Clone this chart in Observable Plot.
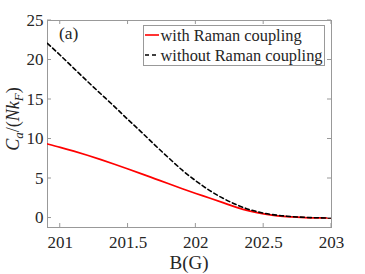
<!DOCTYPE html>
<html><head><meta charset="utf-8">
<script src="https://cdn.jsdelivr.net/npm/d3@7"></script>
<script src="https://cdn.jsdelivr.net/npm/@observablehq/plot@0.6"></script>
<style>body{margin:0;background:#fff}</style>
</head><body><div id="chart"></div>
<script>
const B = [200.906, 201.0, 201.1, 201.2, 201.3, 201.4, 201.5, 201.6, 201.7, 201.8, 201.9, 202.0, 202.1, 202.2, 202.3, 202.4, 202.5, 202.6, 202.7, 202.8, 202.9, 203.0];
const withRaman = [9.37, 8.95, 8.46, 7.94, 7.39, 6.81, 6.21, 5.59, 4.96, 4.33, 3.71, 3.11, 2.54, 1.95, 1.35, 0.88, 0.52, 0.28, 0.14, 0.06, 0.02, 0.0];
const withoutRaman = [22.1, 20.6, 18.95, 17.3, 15.7, 14.1, 12.45, 10.85, 9.2, 7.6, 6.05, 4.7, 3.5, 2.5, 1.68, 1.05, 0.62, 0.35, 0.19, 0.09, 0.03, 0.0];
const seriesNames = ["with Raman coupling", "without Raman coupling"];
const seriesColors = ["#ff0000", "#000000"];
const xTicks = [201, 201.5, 202, 202.5, 203];
const yTicks = [0, 5, 10, 15, 20, 25];
const xLabel = "B(G)";
const panelLabel = "(a)";

const rowsA = B.map((b, i) => ({B: b, C: withRaman[i]}));
const rowsB = B.map((b, i) => ({B: b, C: withoutRaman[i]}));
const axisColor = "#999";
const W = 365, H = 274, mL = 47, mR = 34, mT = 20, mB = 47;
const serif = "'Liberation Serif', 'Times New Roman', Times, serif";

const chart = Plot.plot({
  width: W, height: H,
  marginLeft: mL, marginRight: mR, marginTop: mT, marginBottom: mB,
  style: {fontFamily: serif, fontSize: "17px", color: "#262626", background: "white"},
  x: {domain: [200.906, 203], ticks: xTicks, tickFormat: d => String(d), tickSize: 0, tickPadding: 8, label: null},
  y: {domain: [-1.2, 25], ticks: yTicks, tickFormat: d => String(d), tickSize: 0, tickPadding: 4, label: null},
  marks: [
    Plot.frame({stroke: axisColor}),
    Plot.line(rowsA, {x: "B", y: "C", stroke: seriesColors[0], strokeWidth: 1.7, curve: "monotone-x", clip: true}),
    Plot.line(rowsB, {x: "B", y: "C", stroke: seriesColors[1], strokeWidth: 1.6, strokeDasharray: "4,3", curve: "monotone-x", clip: true})
  ]
});

const svg = d3.select(chart);
svg.selectAll("text").attr("font-family", serif);
const sx = chart.scale("x"), sy = chart.scale("y");
// inward ticks on all four sides, positioned by Plot's scales
const tg = svg.append("g").attr("stroke", axisColor).attr("stroke-width", 1);
xTicks.forEach(v => {
  const x = sx.apply(v);
  tg.append("line").attr("x1", x).attr("x2", x).attr("y1", H - mB).attr("y2", H - mB - 4);
  tg.append("line").attr("x1", x).attr("x2", x).attr("y1", mT).attr("y2", mT + 4);
});
yTicks.forEach(v => {
  const y = sy.apply(v);
  tg.append("line").attr("y1", y).attr("y2", y).attr("x1", mL).attr("x2", mL + 4);
  tg.append("line").attr("y1", y).attr("y2", y).attr("x1", W - mR).attr("x2", W - mR - 4);
});
// x label
svg.append("text").attr("x", 189).attr("y", 269).attr("text-anchor", "middle")
  .attr("font-family", serif).attr("font-size", 19).attr("fill", "#262626").text(xLabel);
// panel label
svg.append("text").attr("x", 59).attr("y", 39).attr("text-anchor", "start").attr("font-family", serif)
  .attr("font-size", 17.5).attr("fill", "#262626").text(panelLabel);
// y label
const yl = svg.append("text").attr("transform", "translate(19,119) rotate(-90)")
  .attr("text-anchor", "middle").attr("font-family", serif).attr("font-size", 18).attr("fill", "#262626");
yl.append("tspan").attr("font-style", "italic").text("C");
yl.append("tspan").attr("font-style", "italic").attr("font-size", 13).attr("dy", 4).text("a");
yl.append("tspan").attr("dy", -4).text("/(");
yl.append("tspan").attr("font-style", "italic").text("Nk");
yl.append("tspan").attr("font-style", "italic").attr("font-size", 13).attr("dy", 4).text("F");
yl.append("tspan").attr("dy", -4).text(")");
// legend
const lg = svg.append("g");
lg.append("rect").attr("x", 143.5).attr("y", 25.5).attr("width", 181).attr("height", 40)
  .attr("fill", "white").attr("stroke", axisColor);
seriesNames.forEach((name, i) => {
  const y = 35 + i * 20;
  lg.append("line").attr("x1", 145).attr("x2", 159).attr("y1", y).attr("y2", y)
    .attr("stroke", seriesColors[i]).attr("stroke-width", 1.6)
    .attr("stroke-dasharray", i === 1 ? "4,3" : null);
  lg.append("text").attr("x", 160.5).attr("y", y + 6).attr("text-anchor", "start").attr("font-family", serif)
    .attr("font-size", 16.4).attr("fill", "#262626").text(name);
});
document.getElementById("chart").appendChild(chart);
</script>
</body></html>
